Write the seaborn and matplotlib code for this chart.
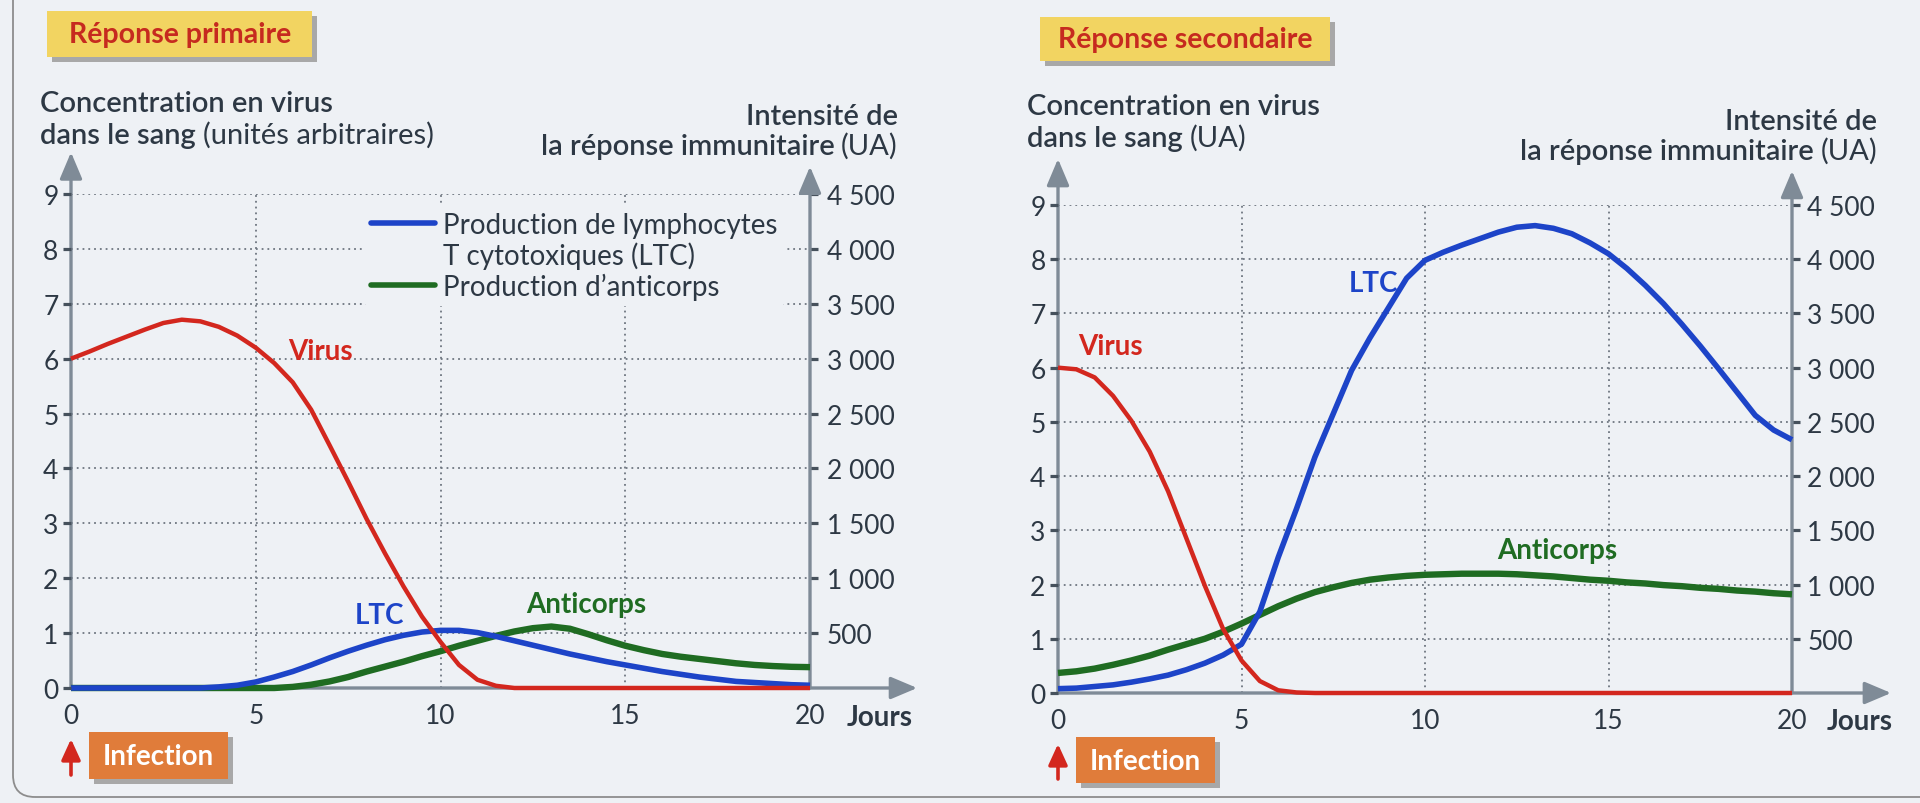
import numpy as np
import pandas as pd
import matplotlib
matplotlib.use("Agg")
import matplotlib.pyplot as plt
import seaborn as sns
from matplotlib.lines import Line2D
from matplotlib.patches import Rectangle, FancyBboxPatch

# ---------------- data ----------------
days = np.arange(0, 20.5, 0.5)

# Réponse primaire
p_virus = [6.0, 6.13, 6.27, 6.4, 6.53, 6.65, 6.71, 6.68, 6.58, 6.42, 6.2, 5.92, 5.57,
           5.07, 4.42, 3.76, 3.08, 2.45, 1.85, 1.3, 0.84, 0.42, 0.15, 0.04,
           0, 0, 0, 0, 0, 0, 0, 0, 0, 0, 0, 0, 0, 0, 0, 0, 0]
p_ltc = [0, 0, 0, 0, 0, 0, 0, 0, 10, 25, 55, 100, 150, 210, 275, 335, 390, 440, 480,
         510, 525, 525, 505, 470, 430, 390, 350, 310, 275, 240, 210, 180, 150, 125,
         100, 80, 60, 50, 40, 30, 25]
p_ac = [0, 0, 0, 0, 0, 0, 0, 0, 0, 0, 0, 0, 10, 30, 60, 100, 150, 195, 240, 290, 335,
        385, 430, 475, 515, 545, 560, 540, 490, 435, 385, 345, 310, 285, 265, 245,
        225, 210, 200, 193, 190]

# Réponse secondaire
s_virus = [6.0, 5.97, 5.82, 5.48, 5.02, 4.45, 3.72, 2.85, 1.98, 1.18, 0.6, 0.22, 0.05,
           0.01, 0, 0, 0, 0, 0, 0, 0, 0, 0, 0, 0, 0, 0, 0, 0, 0, 0, 0, 0, 0, 0, 0, 0,
           0, 0, 0, 0]
s_ltc = [40, 45, 60, 75, 100, 130, 165, 215, 275, 350, 450, 750, 1250, 1700, 2175,
         2575, 2975, 3275, 3550, 3825, 3990, 4065, 4130, 4190, 4250, 4295, 4310, 4285,
         4235, 4150, 4050, 3915, 3760, 3590, 3400, 3200, 2990, 2775, 2560, 2425, 2335]
s_ac = [185, 200, 225, 260, 300, 345, 400, 450, 500, 565, 640, 720, 800, 870, 930, 975,
        1015, 1045, 1065, 1080, 1090, 1095, 1100, 1100, 1100, 1095, 1085, 1075, 1060,
        1045, 1035, 1020, 1010, 995, 985, 970, 960, 945, 935, 920, 910]

x_ticks = [0, 5, 10, 15, 20]
left_ticks = list(range(10))
right_ticks = [500, 1000, 1500, 2000, 2500, 3000, 3500, 4000, 4500]
right_labels = ["500", "1 000", "1 500", "2 000", "2 500", "3 000", "3 500", "4 000", "4 500"]
legend_labels = ["Production de lymphocytes", "T cytotoxiques (LTC)", "Production d\u2019anticorps"]

# ---------------- style ----------------
BG = "#eef1f5"
TXT = "#2d3844"
RED = "#d3271e"
BLUE = "#1d44c8"
GREEN = "#1f6c22"
AXC = "#7f8b97"
TICKC = "#46515c"
GRIDC = "#6e7680"
YELLOW = "#f2d461"
ORANGE = "#e07c3a"
BADGE_RED = "#c62a1f"

sns.set_style("white")
plt.rcParams['font.family'] = ['Lato', 'DejaVu Sans']

W, H = 1920, 804
fig = plt.figure(figsize=(19.2, 8.04), dpi=100, facecolor=BG)
T = fig.dpi_scale_trans


def P(x, y):
    return (x / 100.0, (H - y) / 100.0)


def box(x0, y0, x1, y1, color, shadow=True):
    if shadow:
        fig.add_artist(Rectangle(P(x0 + 5, y1 + 5), (x1 - x0) / 100, (y1 - y0) / 100,
                                 transform=T, fc="#a8a8a8", ec="none", zorder=1))
    fig.add_artist(Rectangle(P(x0, y1), (x1 - x0) / 100, (y1 - y0) / 100,
                             transform=T, fc=color, ec="none", zorder=2))


# frame
fig.add_artist(FancyBboxPatch(P(13, 798), 25, 12, boxstyle="round,pad=0,rounding_size=0.22",
                              transform=T, fill=False, ec="#8d8d8d", lw=1.3, zorder=0))


def panel(rect, virus, ltc, ac, tops, labels_pos, right_pad):
    ax = fig.add_axes(rect)
    ax2 = ax.twinx()
    ax.set_zorder(ax2.get_zorder() + 1)
    ax.patch.set_visible(False)
    ax2.patch.set_visible(False)

    sns.lineplot(x=days, y=ac, ax=ax2, color=GREEN, lw=4.6, zorder=3)
    sns.lineplot(x=days, y=ltc, ax=ax2, color=BLUE, lw=4.0, zorder=4)
    sns.lineplot(x=days, y=virus, ax=ax, color=RED, lw=3.2, zorder=5)
    for l in ax.lines + ax2.lines:
        l.set_clip_on(False)
        l.set_solid_capstyle("butt")
        l.set_solid_joinstyle("round")

    ax.set_xlim(0, 20)
    ax.set_ylim(0, 9)
    ax2.set_ylim(0, 4500)
    for a in (ax, ax2):
        for s in a.spines.values():
            s.set_visible(False)
        a.set_xlabel("")
        a.set_ylabel("")

    ax.set_xticks(x_ticks)
    ax.set_xticklabels([str(v) for v in x_ticks])
    ax.set_yticks(left_ticks)
    ax.set_yticklabels([str(v) for v in left_ticks])
    ax2.set_yticks(right_ticks)
    ax2.set_yticklabels(right_labels)

    ax.tick_params(axis="both", direction="out", color=TICKC, width=2.3,
                   labelsize=19, labelcolor=TXT)
    ax.tick_params(axis="y", length=6, pad=3)
    ax.tick_params(axis="x", length=4, pad=7)
    ax2.tick_params(axis="y", direction="out", color=TICKC, width=2.3, length=6,
                    pad=right_pad, labelsize=19, labelcolor=TXT)

    # grid on the lower axes
    ax2.yaxis.grid(True, color=GRIDC, ls=(0, (1, 2.2)), lw=1.3)
    for gx in x_ticks[1:-1]:
        ax2.axvline(gx, color=GRIDC, ls=(0, (1, 2.2)), lw=1.3, zorder=0)

    # axes with arrows
    ap = dict(arrowstyle="-|>,head_length=0.9,head_width=0.38", color=AXC, lw=2.4,
              shrinkA=0, shrinkB=0, mutation_scale=18)
    xc = ("data", "axes fraction")
    ax2.annotate("", xy=(0, tops[0] / 9), xytext=(0, 0), xycoords=xc, textcoords=xc,
                 arrowprops=ap, annotation_clip=False, zorder=1)
    ax2.annotate("", xy=(20, tops[1] / 9), xytext=(20, 0), xycoords=xc, textcoords=xc,
                 arrowprops=ap, annotation_clip=False, zorder=1)
    ax2.annotate("", xy=(tops[2], 0), xytext=(0, 0), xycoords=xc, textcoords=xc,
                 arrowprops=ap, annotation_clip=False, zorder=1)

    kw = dict(fontsize=20, fontweight="bold", ha="center", va="center")
    ax.text(*labels_pos[0], "Virus", color=RED, **kw)
    ax.text(*labels_pos[1], "LTC", color=BLUE, **kw)
    ax.text(*labels_pos[2], "Anticorps", color=GREEN, **kw)
    return ax, ax2


# ---------------- left panel ----------------
axL, axL2 = panel([71 / W, 1 - 689 / H, 739 / W, 494 / H], p_virus, p_ltc, p_ac,
                  (9.76, 9.5, 22.9),
                  [(6.74, 6.14), (8.36, 1.33), (13.95, 1.53)], 6)

handles = [Line2D([], [], color=BLUE, lw=4.0),
           Line2D([], [], color="none", lw=4.0),
           Line2D([], [], color=GREEN, lw=4.0)]
leg = axL.legend(handles, legend_labels, loc="upper left",
                 bbox_to_anchor=((364 - 71) / 739, (689 - 206) / 494),
                 frameon=True, facecolor=BG, edgecolor="none", framealpha=1,
                 fontsize=20, handlelength=2.3, handletextpad=0.3, borderpad=0.25,
                 labelspacing=0.12, borderaxespad=0)
for t in leg.get_texts():
    t.set_color(TXT)

# ---------------- right panel ----------------
axR, axR2 = panel([1058 / W, 1 - 694 / H, 734 / W, 488 / H], s_virus, s_ltc, s_ac,
                  (9.85, 9.63, 22.7),
                  [(1.44, 6.4), (8.6, 7.56), (13.6, 2.64)], 5)

# ---------------- headers ----------------
HS = 21
hkw = dict(transform=T, fontsize=HS, color=TXT)


def left_header(x, b1, b2, tail):
    fig.text(*P(x, b1), "Concentration en virus", va="baseline", ha="left",
             fontweight="semibold", **hkw)
    t = fig.text(*P(x, b2), "dans le sang", va="baseline", ha="left",
                 fontweight="semibold", **hkw)
    fig.add_artist(plt.Annotation(tail, xy=(1, 0), xycoords=t, xytext=(5, 0),
                                  textcoords="offset points", va="bottom", ha="left",
                                  fontsize=HS, color=TXT))


def right_header(x, b1, b2):
    fig.text(*P(x, b1), "Intensit\u00e9 de", va="baseline", ha="right",
             fontweight="semibold", **hkw)
    t = fig.text(*P(x, b2), "(UA)", va="baseline", ha="right", **hkw)
    fig.add_artist(plt.Annotation("la r\u00e9ponse immunitaire", xy=(0, 0), xycoords=t,
                                  xytext=(-5, 0), textcoords="offset points",
                                  va="bottom", ha="right", fontsize=HS, color=TXT,
                                  fontweight="semibold"))


left_header(40, 112, 144, "(unit\u00e9s arbitraires)")
right_header(898, 125, 155)
left_header(1027, 115, 147, "(UA)")
right_header(1877, 130, 160)

# badges
box(47, 12, 312, 58, YELLOW)
fig.text(*P(180, 35), "R\u00e9ponse primaire", transform=T, fontsize=20.5,
         fontweight="bold", color=BADGE_RED, ha="center", va="center", zorder=3)
box(1040, 18, 1330, 62, YELLOW)
fig.text(*P(1185, 40), "R\u00e9ponse secondaire", transform=T, fontsize=20.5,
         fontweight="bold", color=BADGE_RED, ha="center", va="center", zorder=3)

# infection boxes
for (x0, y0, x1, y1), ax in (((89, 733, 228, 780), axL), ((1076, 738, 1215, 784), axR)):
    box(x0, y0, x1, y1, ORANGE)
    fig.text(*P((x0 + x1) / 2, (y0 + y1) / 2 + 1), "Infection", transform=T, fontsize=20,
             fontweight="bold", color="white", ha="center", va="center", zorder=3)
    ax.annotate("", xy=(0, 1 - (y0 + 7) / H), xytext=(0, 1 - (y1 - 4) / H),
                xycoords=("data", "figure fraction"), textcoords=("data", "figure fraction"),
                arrowprops=dict(arrowstyle="-|>,head_length=0.7,head_width=0.32", color=RED,
                                lw=2.6, shrinkA=0, shrinkB=0, mutation_scale=18),
                annotation_clip=False)

# "Jours"
fig.text(*P(880, 718), "Jours", transform=T, fontsize=20, fontweight="bold",
         color=TXT, ha="center", va="center")
fig.text(*P(1860, 722), "Jours", transform=T, fontsize=20, fontweight="bold",
         color=TXT, ha="center", va="center")

fig.savefig("out.png", dpi=100, facecolor=BG)
